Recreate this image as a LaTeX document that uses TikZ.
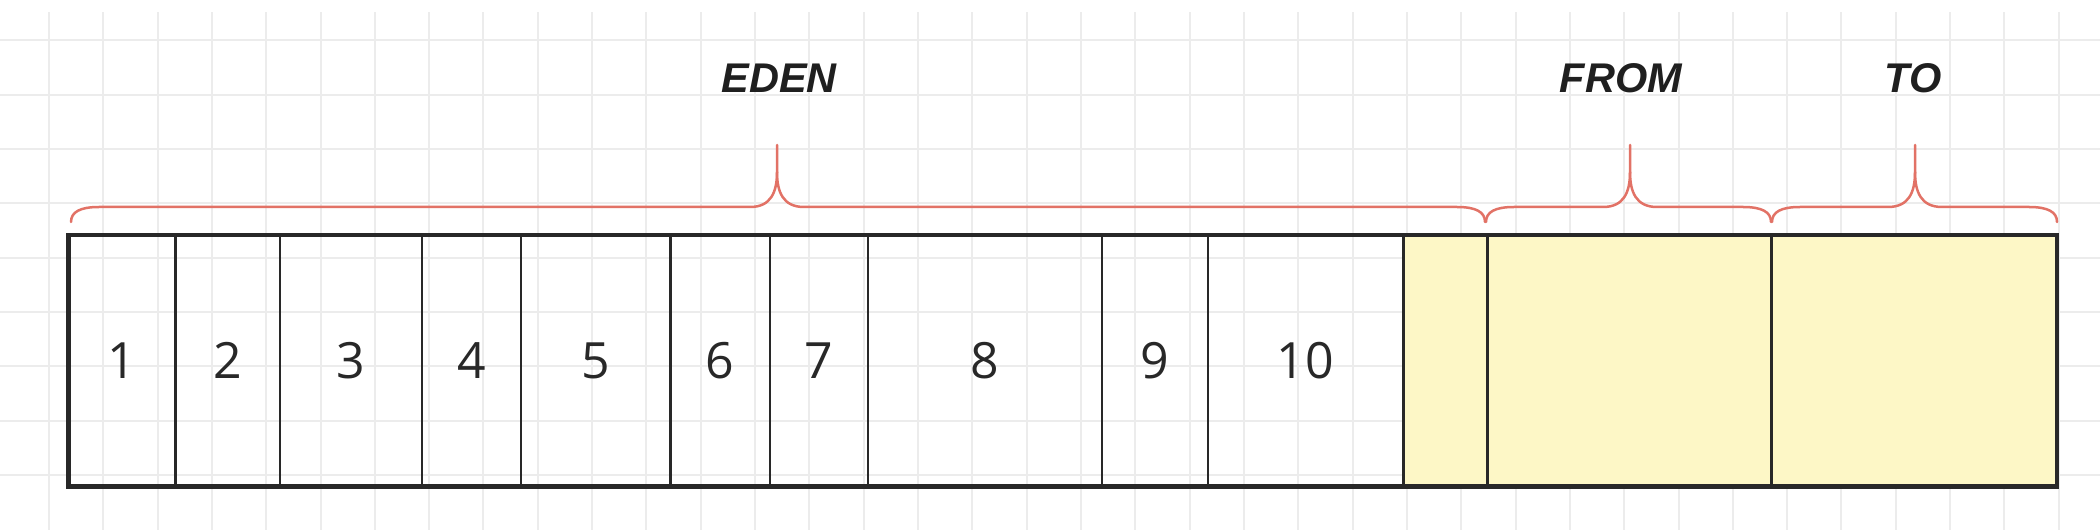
\documentclass[tikz,border=0pt]{standalone}
\usepackage{fontspec}
\setmainfont{Open Sans}
\newfontfamily\labelfont{Liberation Sans}
\usetikzlibrary{calc}
\definecolor{gridc}{RGB}{236,236,236}
\definecolor{bracec}{RGB}{226,114,102}
\definecolor{cellfill}{RGB}{253,247,198}
\definecolor{linec}{RGB}{40,40,40}
\tikzset{
  gridline/.style={draw=gridc, line width=2pt},
  cell/.style={draw=linec, line width=2.5pt, inner sep=0pt, minimum height=250pt, anchor=south west,
    font=\fontsize{50}{60}\selectfont, text=linec},
  yellowcell/.style={cell, fill=cellfill},
  bracestyle/.style={draw=bracec, line width=2.5pt, line cap=round},
  region/.style={font=\labelfont\fontsize{41.5}{50}\selectfont\bfseries\itshape, text=black!88, anchor=base, inner sep=0pt},
}
\begin{document}
\begin{tikzpicture}[x=1pt,y=1pt]
\useasboundingbox (0,0) rectangle (2100,530);
\fill[white] (0,0) rectangle (2100,530);
% grid
\foreach \k in {0,...,37} {
  \draw[gridline] ({48.9+\k*54.32},0) -- ({48.9+\k*54.32},518);
}
\foreach \k in {0,...,8} {
  \draw[gridline] (0,{489.5-\k*54.3}) -- (2100,{489.5-\k*54.3});
}
% cells
\def\yb{43.2}
\node[cell, minimum width=106pt] (c1) at (68,\yb) {1};
\node[cell, minimum width=104.6pt] (c2) at (174,\yb) {2};
\node[cell, minimum width=141.9pt] (c3) at (278.6,\yb) {3};
\node[cell, minimum width=99.1pt] (c4) at (420.5,\yb) {4};
\node[cell, minimum width=149.7pt] (c5) at (519.6,\yb) {5};
\node[cell, minimum width=99.2pt] (c6) at (669.3,\yb) {6};
\node[cell, minimum width=98pt] (c7) at (768.5,\yb) {7};
\node[cell, minimum width=234.2pt] (c8) at (866.5,\yb) {8};
\node[cell, minimum width=105.8pt] (c9) at (1100.7,\yb) {9};
\node[cell, minimum width=195.5pt] (c10) at (1206.5,\yb) {10};
\node[yellowcell, minimum width=84pt] (c11) at (1402,\yb) {};
\node[yellowcell, minimum width=284.3pt] (from) at (1486,\yb) {};
\node[yellowcell, minimum width=284.2pt] (to) at (1770.3,\yb) {};
\draw[draw=linec, line width=3.5pt] (c1.south west) rectangle (to.north east);
% braces
\foreach \a/\m/\b in {71/777/1485, 1486/1630/1771, 1772/1915/2057} {
  \draw[bracestyle] (\a,308) .. controls (\a,318) and ({\a+9},323) .. ({\a+28},323)
     -- ({\m-27},323) .. controls ({\m-6},323) and (\m,338) .. (\m,358) -- (\m,385);
  \draw[bracestyle] (\b,308) .. controls (\b,318) and ({\b-9},323) .. ({\b-28},323)
     -- ({\m+27},323) .. controls ({\m+6},323) and (\m,338) .. (\m,358);
}
% labels
\node[region] (eden) at (779,437.5) {EDEN};
\node[region] (fromlabel) at (1621,437.5) {FROM};
\node[region] (tolabel) at (1913,437.5) {TO};
\end{tikzpicture}
\end{document}
